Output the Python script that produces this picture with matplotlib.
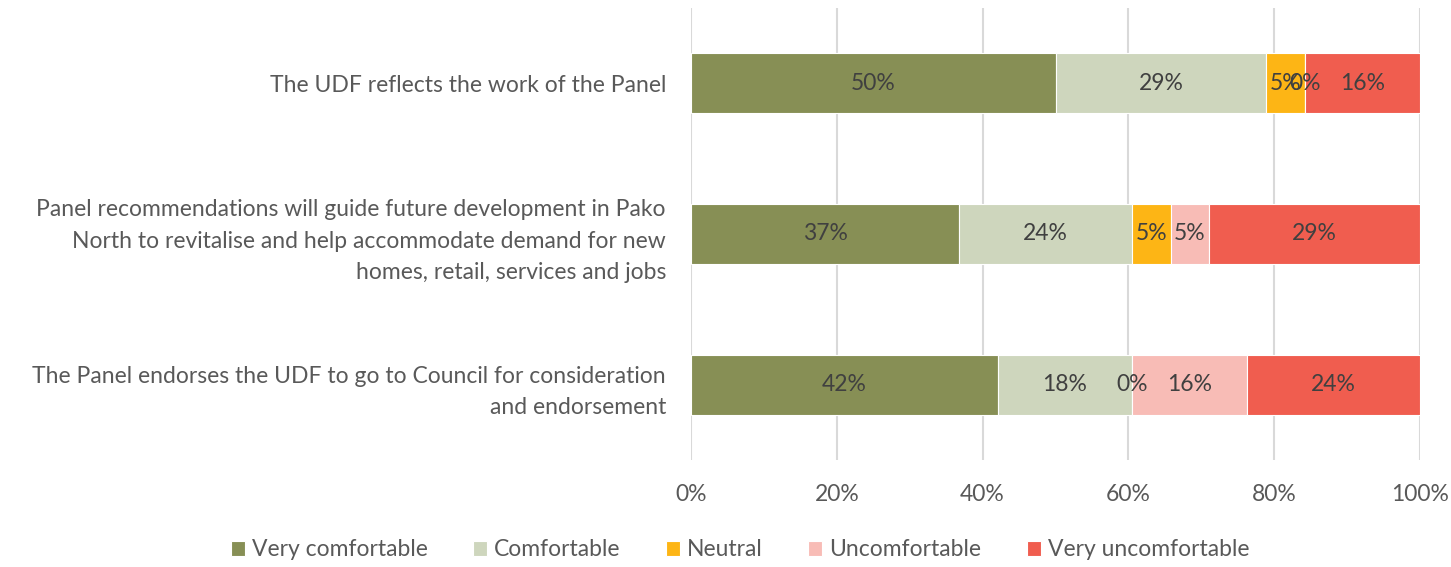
import matplotlib
matplotlib.use("Agg")
import matplotlib.pyplot as plt
import numpy as np

# Survey statements (top to bottom) and response shares in percent
statements = [
    "The UDF reflects the work of the Panel",
    "Panel recommendations will guide future development in Pako\nNorth to revitalise and help accommodate demand for new\nhomes, retail, services and jobs",
    "The Panel endorses the UDF to go to Council for consideration\nand endorsement",
]
responses = ["Very comfortable", "Comfortable", "Neutral", "Uncomfortable", "Very uncomfortable"]
very_comfortable = [50.0, 36.8, 42.1]
comfortable = [28.9, 23.7, 18.4]
neutral = [5.3, 5.3, 0.0]
uncomfortable = [0.0, 5.3, 15.8]
very_uncomfortable = [15.8, 28.9, 23.7]
x_ticks = [0, 20, 40, 60, 80, 100]

colors = ["#878f55", "#ced6bd", "#fdb515", "#f8bcb6", "#f05d4f"]
series = [very_comfortable, comfortable, neutral, uncomfortable, very_uncomfortable]

plt.rcParams["font.family"] = ["Lato", "DejaVu Sans"]
FS = 16.5

fig = plt.figure(figsize=(14.51, 5.67), dpi=100)
ax = fig.add_axes([691 / 1451, 1 - 460 / 567, 729 / 1451, 452 / 567])

y = np.arange(len(statements))
left = np.zeros(len(statements))
for name, vals, col in zip(responses, series, colors):
    vals = np.array(vals)
    bars = ax.barh(y, vals, left=left, height=0.4, color=col, edgecolor="white",
                   linewidth=0.8, label=name, zorder=2)
    ax.bar_label(bars, labels=[f"{v:.0f}%" for v in vals], label_type="center",
                 fontsize=FS, color="#404040")
    left += vals

ax.set_xlim(0, 100)
ax.set_ylim(len(statements) - 0.5, -0.5)
ax.set_xticks(x_ticks)
ax.set_xticklabels([f"{t}%" for t in x_ticks])
ax.set_yticks(y)
ax.set_yticklabels(statements, ha="right", linespacing=1.6)
ax.tick_params(axis="x", length=0, pad=17, labelsize=FS, labelcolor="#595959")
ax.tick_params(axis="y", length=0, pad=18, labelsize=FS, labelcolor="#595959")
ax.grid(axis="x", color="#d9d9d9", linewidth=1.5, zorder=0)
ax.set_axisbelow(True)
for s in ax.spines.values():
    s.set_visible(False)

fig.legend(loc="center", bbox_to_anchor=(740 / 1451, 1 - 550 / 567), ncol=5,
           frameon=False, fontsize=FS, labelcolor="#595959", handlelength=0.6,
           handleheight=0.6, handletextpad=0.3, columnspacing=2.0)

fig.savefig("out.png", dpi=100)
